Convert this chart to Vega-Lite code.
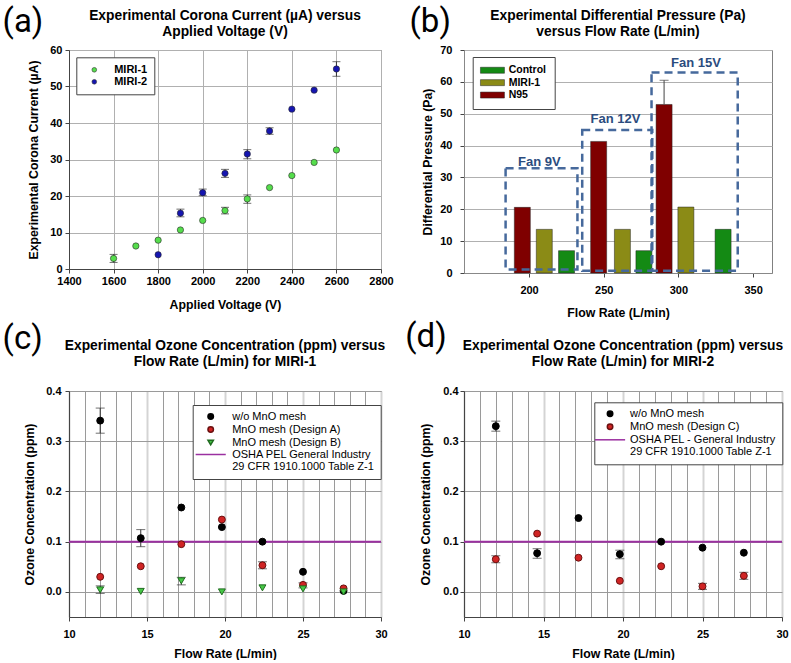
{
  "$schema": "https://vega.github.io/schema/vega-lite/v6.json",
  "background": "white",
  "padding": {"left": 2, "top": 5, "right": 0, "bottom": 0},
  "bounds": "flush",
  "columns": 2,
  "spacing": {"row": 118, "column": 83},
  "resolve": {"scale": {"color": "independent", "shape": "independent", "stroke": "independent"}, "legend": {"color": "independent", "shape": "independent", "stroke": "independent"}},
  "config": {
    "font": "Liberation Sans",
    "view": {"stroke": "#808080", "strokeWidth": 1},
    "axis": {
      "labelFont": "Liberation Sans", "labelFontWeight": "bold", "labelFontSize": 11, "labelColor": "#000",
      "titleFont": "Liberation Sans", "titleFontWeight": "bold", "titleFontSize": 12.3, "titleColor": "#000",
      "domainColor": "#444", "tickColor": "#444", "tickSize": 4, "gridColor": "#b0b0b0",
      "labelFlush": false, "labelOverlap": false
    },
    "title": {"font": "Liberation Sans", "fontWeight": "bold", "fontSize": 13.8, "anchor": "middle", "frame": "group", "color": "#000", "lineHeight": 16},
    "legend": {"labelFont": "Liberation Sans", "labelColor": "#000"}
  },
  "datasets": {
    "a_pts": [
      {"sa": "MIRI-1", "v": 1600, "c": 2.9}, {"sa": "MIRI-1", "v": 1700, "c": 6.3}, {"sa": "MIRI-1", "v": 1800, "c": 7.9},
      {"sa": "MIRI-1", "v": 1900, "c": 10.7}, {"sa": "MIRI-1", "v": 2000, "c": 13.3}, {"sa": "MIRI-1", "v": 2100, "c": 16.0},
      {"sa": "MIRI-1", "v": 2200, "c": 19.2}, {"sa": "MIRI-1", "v": 2300, "c": 22.3}, {"sa": "MIRI-1", "v": 2400, "c": 25.6},
      {"sa": "MIRI-1", "v": 2500, "c": 29.2}, {"sa": "MIRI-1", "v": 2600, "c": 32.6},
      {"sa": "MIRI-2", "v": 1800, "c": 3.9}, {"sa": "MIRI-2", "v": 1900, "c": 15.3}, {"sa": "MIRI-2", "v": 2000, "c": 20.9},
      {"sa": "MIRI-2", "v": 2100, "c": 26.2}, {"sa": "MIRI-2", "v": 2200, "c": 31.5}, {"sa": "MIRI-2", "v": 2300, "c": 37.8},
      {"sa": "MIRI-2", "v": 2400, "c": 43.8}, {"sa": "MIRI-2", "v": 2500, "c": 49.0}, {"sa": "MIRI-2", "v": 2600, "c": 54.8}
    ],
    "a_err": [
      {"v": 1600, "lo": 1.8, "hi": 4.0}, {"v": 2100, "lo": 15.1, "hi": 16.9}, {"v": 2200, "lo": 18.0, "hi": 20.3},
      {"v": 1900, "lo": 14.3, "hi": 16.4}, {"v": 2000, "lo": 20.1, "hi": 21.9}, {"v": 2100, "lo": 25.1, "hi": 27.3},
      {"v": 2200, "lo": 30.2, "hi": 32.7}, {"v": 2300, "lo": 36.9, "hi": 38.7}, {"v": 2600, "lo": 52.8, "hi": 56.8}
    ],
    "b_bars": [
      {"sb": "N95", "x": 195.5, "p": 20.6}, {"sb": "MIRI-1", "x": 210.2, "p": 13.7}, {"sb": "Control", "x": 225.1, "p": 7.0},
      {"sb": "N95", "x": 246.6, "p": 41.3}, {"sb": "MIRI-1", "x": 262.5, "p": 13.7}, {"sb": "Control", "x": 276.9, "p": 7.0},
      {"sb": "N95", "x": 290.4, "p": 52.9}, {"sb": "MIRI-1", "x": 305.0, "p": 20.7}, {"sb": "Control", "x": 329.9, "p": 13.7}
    ],
    "b_err": [{"x": 290.4, "lo": 52.9, "hi": 60.5}],
    "b_fans": [
      {"label": "Fan 9V", "x1": 184.3, "x2": 232.4, "y1": 1.1, "y2": 32.9, "lx": 206.9, "ly": 34.9},
      {"label": "Fan 12V", "x1": 235.6, "x2": 282.5, "y1": 0.7, "y2": 44.9, "lx": 257.8, "ly": 48.2},
      {"label": "Fan 15V", "x1": 282.0, "x2": 339.7, "y1": 0.7, "y2": 62.9, "lx": 311.7, "ly": 65.8}
    ],
    "c_pts": [
      {"sc": "w/o MnO mesh", "f": 12, "o": 0.341}, {"sc": "w/o MnO mesh", "f": 14.6, "o": 0.107}, {"sc": "w/o MnO mesh", "f": 17.2, "o": 0.168},
      {"sc": "w/o MnO mesh", "f": 19.8, "o": 0.129}, {"sc": "w/o MnO mesh", "f": 22.4, "o": 0.100}, {"sc": "w/o MnO mesh", "f": 25, "o": 0.040},
      {"sc": "w/o MnO mesh", "f": 27.6, "o": 0.002},
      {"sc": "MnO mesh (Design A)", "f": 12, "o": 0.030}, {"sc": "MnO mesh (Design A)", "f": 14.6, "o": 0.051}, {"sc": "MnO mesh (Design A)", "f": 17.2, "o": 0.095},
      {"sc": "MnO mesh (Design A)", "f": 19.8, "o": 0.144}, {"sc": "MnO mesh (Design A)", "f": 22.4, "o": 0.053}, {"sc": "MnO mesh (Design A)", "f": 25, "o": 0.014},
      {"sc": "MnO mesh (Design A)", "f": 27.6, "o": 0.007},
      {"sc": "MnO mesh (Design B)", "f": 12, "o": 0.004}, {"sc": "MnO mesh (Design B)", "f": 14.6, "o": 0.001}, {"sc": "MnO mesh (Design B)", "f": 17.2, "o": 0.022},
      {"sc": "MnO mesh (Design B)", "f": 19.8, "o": 0.000}, {"sc": "MnO mesh (Design B)", "f": 22.4, "o": 0.008}, {"sc": "MnO mesh (Design B)", "f": 25, "o": 0.006},
      {"sc": "MnO mesh (Design B)", "f": 27.6, "o": 0.000}
    ],
    "c_err": [
      {"f": 12, "lo": 0.316, "hi": 0.366}, {"f": 14.6, "lo": 0.090, "hi": 0.124}, {"f": 22.4, "lo": 0.046, "hi": 0.060},
      {"f": 25, "lo": 0.008, "hi": 0.018}, {"f": 12, "lo": -0.003, "hi": 0.012}, {"f": 17.2, "lo": 0.014, "hi": 0.029}
    ],
    "d_pts": [
      {"sd": "w/o MnO mesh", "f": 12, "o": 0.330}, {"sd": "w/o MnO mesh", "f": 14.6, "o": 0.077}, {"sd": "w/o MnO mesh", "f": 17.2, "o": 0.147},
      {"sd": "w/o MnO mesh", "f": 19.8, "o": 0.075}, {"sd": "w/o MnO mesh", "f": 22.4, "o": 0.100}, {"sd": "w/o MnO mesh", "f": 25, "o": 0.088},
      {"sd": "w/o MnO mesh", "f": 27.6, "o": 0.078},
      {"sd": "MnO mesh (Design C)", "f": 12, "o": 0.065}, {"sd": "MnO mesh (Design C)", "f": 14.6, "o": 0.116}, {"sd": "MnO mesh (Design C)", "f": 17.2, "o": 0.068},
      {"sd": "MnO mesh (Design C)", "f": 19.8, "o": 0.022}, {"sd": "MnO mesh (Design C)", "f": 22.4, "o": 0.051}, {"sd": "MnO mesh (Design C)", "f": 25, "o": 0.011},
      {"sd": "MnO mesh (Design C)", "f": 27.6, "o": 0.032}
    ],
    "d_err": [
      {"f": 12, "lo": 0.320, "hi": 0.340}, {"f": 14.6, "lo": 0.067, "hi": 0.086}, {"f": 19.8, "lo": 0.066, "hi": 0.083},
      {"f": 12, "lo": 0.058, "hi": 0.072}, {"f": 25, "lo": 0.005, "hi": 0.017}, {"f": 27.6, "lo": 0.025, "hi": 0.039}
    ]
  },
  "concat": [
    {
      "width": 312, "height": 219,
      "title": {"text": ["Experimental Corona Current (µA) versus", "Applied Voltage (V)"], "offset": -32.7},
      "encoding": {
        "x": {"type": "quantitative", "scale": {"domain": [1400, 2800], "nice": false, "zero": false},
              "axis": {"values": [1400, 1600, 1800, 2000, 2200, 2400, 2600, 2800], "title": "Applied Voltage (V)", "grid": true, "format": "d", "labelPadding": 2, "titlePadding": 12}},
        "y": {"type": "quantitative", "scale": {"domain": [0, 60], "nice": false},
              "axis": {"values": [0, 10, 20, 30, 40, 50, 60], "title": "Experimental Corona Current (µA)", "grid": true, "labelPadding": 3, "titlePadding": 9}}
      },
      "layer": [
        {"data": {"name": "a_err"}, "mark": {"type": "rule", "color": "#333", "strokeWidth": 1},
         "encoding": {"x": {"field": "v"}, "y": {"field": "lo"}, "y2": {"field": "hi"}}},
        {"data": {"name": "a_err"}, "mark": {"type": "tick", "orient": "horizontal", "color": "#333", "size": 8, "thickness": 1},
         "encoding": {"x": {"field": "v"}, "y": {"field": "lo"}}},
        {"data": {"name": "a_err"}, "mark": {"type": "tick", "orient": "horizontal", "color": "#333", "size": 8, "thickness": 1},
         "encoding": {"x": {"field": "v"}, "y": {"field": "hi"}}},
        {"data": {"name": "a_pts"}, "mark": {"type": "point", "filled": true, "size": 40, "stroke": "#2a2a2a", "strokeWidth": 0.6, "opacity": 1},
         "encoding": {"x": {"field": "v"}, "y": {"field": "c"},
           "color": {"field": "sa", "type": "nominal", "scale": {"domain": ["MIRI-1", "MIRI-2"], "range": ["#55dd4c", "#1515b0"]},
             "legend": {"orient": "none", "legendX": 7.3, "legendY": 7.3, "title": null, "fillColor": "white", "strokeColor": "#444", "padding": 7, "rowPadding": 0,
               "symbolType": "circle", "symbolSize": 22, "symbolOffset": 5.5, "labelOffset": 14.4, "labelFontSize": 11, "labelFontWeight": "bold", "symbolStrokeColor": "#333", "symbolStrokeWidth": 0.6}}}},
        {"data": {"values": [{}]}, "mark": {"type": "text", "font": "Roboto", "fontSize": 33, "align": "left", "baseline": "alphabetic", "color": "#000"},
         "encoding": {"x": {"datum": 1102}, "y": {"datum": 64.93}, "text": {"value": "(a)"}}}
      ]
    },
    {
      "width": 308, "height": 223,
      "title": {"text": ["Experimental Differential Pressure (Pa)", "versus Flow Rate (L/min)"], "offset": -32.7},
      "encoding": {
        "x": {"type": "quantitative", "scale": {"domain": [159.8, 359.3], "nice": false, "zero": false},
              "axis": {"values": [200, 250, 300, 350], "title": "Flow Rate (L/min)", "grid": false, "labelPadding": 7, "titlePadding": 11, "domainColor": "#888"}},
        "y": {"type": "quantitative", "scale": {"domain": [0, 70], "nice": false},
              "axis": {"values": [0, 10, 20, 30, 40, 50, 60, 70], "title": "Differential Pressure (Pa)", "grid": true, "labelPadding": 8, "titlePadding": 5, "domainColor": "#888"}}
      },
      "layer": [
        {"data": {"name": "b_bars"}, "mark": {"type": "bar", "width": 16, "stroke": "#222", "strokeWidth": 0.5},
         "encoding": {"x": {"field": "x"}, "y": {"field": "p"},
           "color": {"field": "sb", "type": "nominal", "scale": {"domain": ["Control", "MIRI-1", "N95"], "range": ["#148a14", "#8b8b16", "#7f0000"]},
             "legend": {"orient": "none", "legendX": 8.7, "legendY": 7, "title": null, "fillColor": "white", "strokeColor": "#444", "padding": 8, "rowPadding": 1.4,
               "symbolType": "M-4,-1H4V1H-4Z", "symbolSize": 36, "symbolOffset": 6.5, "labelOffset": 11, "labelFontSize": 10.5, "labelFontWeight": "bold", "symbolStrokeColor": "#222", "symbolStrokeWidth": 0.5}}}},
        {"data": {"name": "b_err"}, "mark": {"type": "rule", "color": "#444", "strokeWidth": 1},
         "encoding": {"x": {"field": "x"}, "y": {"field": "lo"}, "y2": {"field": "hi"}}},
        {"data": {"name": "b_err"}, "mark": {"type": "tick", "orient": "horizontal", "color": "#444", "size": 9, "thickness": 1},
         "encoding": {"x": {"field": "x"}, "y": {"field": "hi"}}},
        {"data": {"name": "b_fans"}, "mark": {"type": "rect", "filled": false, "color": "#46699c", "strokeWidth": 2.5, "strokeDash": [8, 5]},
         "encoding": {"x": {"field": "x1"}, "x2": {"field": "x2"}, "y": {"field": "y1"}, "y2": {"field": "y2"}}},
        {"data": {"name": "b_fans"}, "mark": {"type": "text", "fontWeight": "bold", "fontSize": 13, "color": "#2b4c7e", "align": "center", "baseline": "middle"},
         "encoding": {"x": {"field": "lx"}, "y": {"field": "ly"}, "text": {"field": "label"}}},
        {"data": {"values": [{}]}, "mark": {"type": "text", "font": "Roboto", "fontSize": 33, "align": "left", "baseline": "alphabetic", "color": "#000"},
         "encoding": {"x": {"datum": 120.0}, "y": {"datum": 75.65}, "text": {"value": "(b)"}}}
      ]
    },
    {
      "width": 312, "height": 226,
      "title": {"text": ["Experimental Ozone Concentration (ppm) versus", "Flow Rate (L/min) for MIRI-1"], "offset": -46.4},
      "encoding": {
        "x": {"type": "quantitative", "scale": {"domain": [10, 30], "nice": false, "zero": false},
              "axis": {"values": [10, 11, 12, 13, 14, 15, 16, 17, 18, 19, 20, 21, 22, 23, 24, 25, 26, 27, 28, 29, 30], "format": "d",
                "labelExpr": "datum.value % 5 == 0 ? datum.label : ''", "title": "Flow Rate (L/min)", "grid": true,
                "gridColor": {"condition": {"test": "datum.value % 5 == 0", "value": "#d4d4d4"}, "value": "#9a9a9a"},
                "gridWidth": {"condition": {"test": "datum.value % 5 == 0", "value": 2}, "value": 1},
                "tickOpacity": {"condition": {"test": "datum.value % 5 == 0", "value": 1}, "value": 0},
                "labelPadding": 7, "titlePadding": 8}},
        "y": {"type": "quantitative", "scale": {"domain": [-0.05, 0.4], "nice": false, "zero": false},
              "axis": {"values": [0, 0.1, 0.2, 0.3, 0.4], "format": ".1f", "title": "Ozone Concentration (ppm)", "grid": true, "gridColor": "#9a9a9a", "labelPadding": 4, "titlePadding": 9}}
      },
      "layer": [
        {"data": {"values": [{}]}, "mark": {"type": "rule", "color": "#9b30a0", "strokeWidth": 2},
         "encoding": {"y": {"datum": 0.1}}},
        {"data": {"name": "c_err"}, "mark": {"type": "rule", "color": "#333", "strokeWidth": 1},
         "encoding": {"x": {"field": "f"}, "y": {"field": "lo"}, "y2": {"field": "hi"}}},
        {"data": {"name": "c_err"}, "mark": {"type": "tick", "orient": "horizontal", "color": "#333", "size": 9, "thickness": 1},
         "encoding": {"x": {"field": "f"}, "y": {"field": "lo"}}},
        {"data": {"name": "c_err"}, "mark": {"type": "tick", "orient": "horizontal", "color": "#333", "size": 9, "thickness": 1},
         "encoding": {"x": {"field": "f"}, "y": {"field": "hi"}}},
        {"data": {"name": "c_pts"},
         "mark": {"type": "point", "filled": true, "size": 48, "strokeWidth": 1, "opacity": 1},
         "encoding": {"x": {"field": "f"}, "y": {"field": "o"},
           "color": {"field": "sc", "type": "nominal",
             "scale": {"domain": ["w/o MnO mesh", "MnO mesh (Design A)", "MnO mesh (Design B)", "OSHA PEL General Industry", "29 CFR 1910.1000 Table Z-1"],
                       "range": ["#000000", "#d02424", "#46c846", "#9b30a0", "#ffffff"]},
             "legend": {"orient": "none", "legendX": 123.7, "legendY": 14, "title": null, "fillColor": "white", "strokeColor": "#444", "padding": 6, "rowPadding": 0,
               "symbolSize": 30, "symbolOffset": 6.5, "labelOffset": 16, "labelFontSize": 11, "labelFontWeight": "normal"}},
           "shape": {"field": "sc", "type": "nominal",
             "scale": {"domain": ["w/o MnO mesh", "MnO mesh (Design A)", "MnO mesh (Design B)", "OSHA PEL General Industry", "29 CFR 1910.1000 Table Z-1"],
                       "range": ["circle", "circle", "triangle-down", "M-5.5,0H5.5", "circle"]}},
           "stroke": {"field": "sc", "type": "nominal",
             "scale": {"domain": ["w/o MnO mesh", "MnO mesh (Design A)", "MnO mesh (Design B)", "OSHA PEL General Industry", "29 CFR 1910.1000 Table Z-1"],
                       "range": ["#000000", "#6a1010", "#1f6a1f", "#9b30a0", "#ffffff"]}}}},
        {"data": {"values": [{}]}, "mark": {"type": "text", "font": "Roboto", "fontSize": 33, "align": "left", "baseline": "alphabetic", "color": "#000"},
         "encoding": {"x": {"datum": 5.744}, "y": {"datum": 0.4844}, "text": {"value": "(c)"}}}
      ]
    },
    {
      "width": 318, "height": 226,
      "title": {"text": ["Experimental Ozone Concentration (ppm) versus", "Flow Rate (L/min) for MIRI-2"], "offset": -48.4},
      "encoding": {
        "x": {"type": "quantitative", "scale": {"domain": [10, 30], "nice": false, "zero": false},
              "axis": {"values": [10, 11, 12, 13, 14, 15, 16, 17, 18, 19, 20, 21, 22, 23, 24, 25, 26, 27, 28, 29, 30], "format": "d",
                "labelExpr": "datum.value % 5 == 0 ? datum.label : ''", "title": "Flow Rate (L/min)", "grid": true,
                "gridColor": {"condition": {"test": "datum.value % 5 == 0", "value": "#d4d4d4"}, "value": "#9a9a9a"},
                "gridWidth": {"condition": {"test": "datum.value % 5 == 0", "value": 2}, "value": 1},
                "tickOpacity": {"condition": {"test": "datum.value % 5 == 0", "value": 1}, "value": 0},
                "labelPadding": 7, "titlePadding": 8}},
        "y": {"type": "quantitative", "scale": {"domain": [-0.05, 0.4], "nice": false, "zero": false},
              "axis": {"values": [0, 0.1, 0.2, 0.3, 0.4], "format": ".1f", "title": "Ozone Concentration (ppm)", "grid": true, "gridColor": "#9a9a9a", "labelPadding": 2, "titlePadding": 10}}
      },
      "layer": [
        {"data": {"values": [{}]}, "mark": {"type": "rule", "color": "#9b30a0", "strokeWidth": 2},
         "encoding": {"y": {"datum": 0.1}}},
        {"data": {"name": "d_err"}, "mark": {"type": "rule", "color": "#333", "strokeWidth": 1},
         "encoding": {"x": {"field": "f"}, "y": {"field": "lo"}, "y2": {"field": "hi"}}},
        {"data": {"name": "d_err"}, "mark": {"type": "tick", "orient": "horizontal", "color": "#333", "size": 9, "thickness": 1},
         "encoding": {"x": {"field": "f"}, "y": {"field": "lo"}}},
        {"data": {"name": "d_err"}, "mark": {"type": "tick", "orient": "horizontal", "color": "#333", "size": 9, "thickness": 1},
         "encoding": {"x": {"field": "f"}, "y": {"field": "hi"}}},
        {"data": {"name": "d_pts"},
         "mark": {"type": "point", "filled": true, "size": 48, "strokeWidth": 1, "opacity": 1},
         "encoding": {"x": {"field": "f"}, "y": {"field": "o"},
           "color": {"field": "sd", "type": "nominal",
             "scale": {"domain": ["w/o MnO mesh", "MnO mesh (Design C)", "OSHA PEL - General Industry", "29 CFR 1910.1000 Table Z-1"],
                       "range": ["#000000", "#d02424", "#9b30a0", "#ffffff"]},
             "legend": {"orient": "none", "legendX": 130.3, "legendY": 11.3, "title": null, "fillColor": "white", "strokeColor": "#444", "padding": 6, "rowPadding": 0,
               "symbolSize": 30, "symbolOffset": 4.25, "labelOffset": 14.5, "labelFontSize": 11, "labelFontWeight": "normal"}},
           "shape": {"field": "sd", "type": "nominal",
             "scale": {"domain": ["w/o MnO mesh", "MnO mesh (Design C)", "OSHA PEL - General Industry", "29 CFR 1910.1000 Table Z-1"],
                       "range": ["circle", "circle", "M-5.5,0H5.5", "circle"]}},
           "stroke": {"field": "sd", "type": "nominal",
             "scale": {"domain": ["w/o MnO mesh", "MnO mesh (Design C)", "OSHA PEL - General Industry", "29 CFR 1910.1000 Table Z-1"],
                       "range": ["#000000", "#6a1010", "#9b30a0", "#ffffff"]}}}},
        {"data": {"values": [{}]}, "mark": {"type": "text", "font": "Roboto", "fontSize": 33, "align": "left", "baseline": "alphabetic", "color": "#000"},
         "encoding": {"x": {"datum": 6.31}, "y": {"datum": 0.4884}, "text": {"value": "(d)"}}}
      ]
    }
  ]
}
